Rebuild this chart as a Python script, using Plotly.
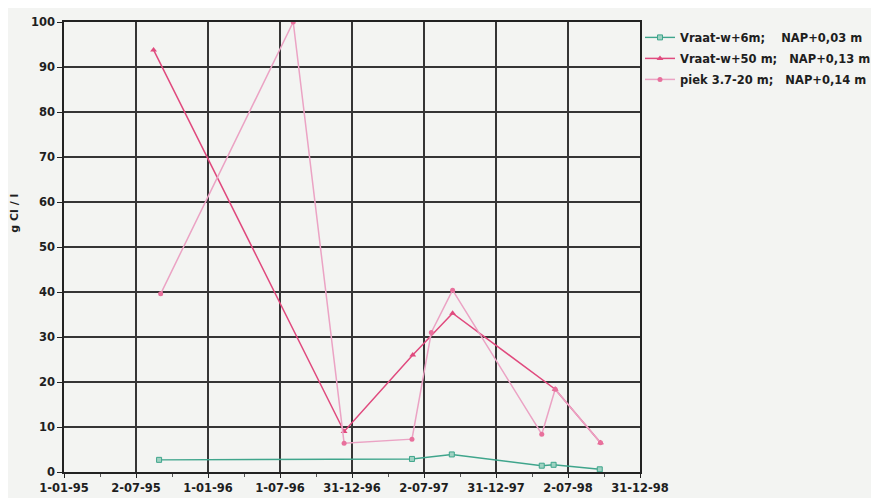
import plotly.graph_objects as go

# ---- data ----
tick_vals = ["1995-01-01", "1995-07-02 12:00", "1996-01-01", "1996-07-01 12:00",
             "1996-12-31", "1997-07-01 12:00", "1997-12-31", "1998-07-01 12:00", "1998-12-31"]
tick_text = ["1-01-95", "2-07-95", "1-01-96", "1-07-96", "31-12-96",
             "2-07-97", "31-12-97", "2-07-98", "31-12-98"]

names = ["Vraat-w+6m;\u00a0\u00a0\u00a0\u00a0NAP+0,03 m",
         "Vraat-w+50 m;\u00a0\u00a0\u00a0NAP+0,13 m",
         "piek 3.7-20 m;\u00a0\u00a0\u00a0NAP+0,14 m"]

dates_6m = ["1995-08-30", "1997-06-01", "1997-09-10", "1998-04-26", "1998-05-26", "1998-09-20"]
vals_6m = [2.7, 2.9, 3.9, 1.4, 1.6, 0.6]

dates_50m = ["1995-08-16", "1996-12-11", "1997-06-03", "1997-09-12", "1998-05-30", "1998-09-22"]
vals_50m = [93.8, 9.0, 26.0, 35.3, 18.4, 6.5]

dates_piek = ["1995-09-03", "1996-08-04", "1996-12-11", "1997-06-01", "1997-07-20",
              "1997-09-12", "1998-04-26", "1998-05-30", "1998-09-22"]
vals_piek = [39.6, 100.0, 6.4, 7.3, 31.0, 40.4, 8.4, 18.4, 6.5]

colors = ["#3fa58c", "#e04a7e", "#eba3c4"]

FONT = "DejaVu Sans"
TXT = "#1e1e1e"
GRID = "#353535"
BG = "#f3f4f2"

# page body has an 8px margin: the figure sits at (8, 8) in the window
fig = go.Figure()
fig.add_trace(go.Scatter(x=dates_6m, y=vals_6m, mode="lines+markers", name=names[0],
                         legendgroup="a",
                         line=dict(color=colors[0], width=1.4),
                         marker=dict(symbol="square", size=5, color="#9fd2c2",
                                     line=dict(color=colors[0], width=1))))
fig.add_trace(go.Scatter(x=dates_50m, y=vals_50m, mode="lines+markers", name=names[1],
                         legendgroup="b",
                         line=dict(color=colors[1], width=1.5),
                         marker=dict(symbol="triangle-up", size=6, color=colors[1])))
fig.add_trace(go.Scatter(x=dates_piek, y=vals_piek, mode="lines+markers", name=names[2],
                         legendgroup="c",
                         line=dict(color=colors[2], width=1.5),
                         marker=dict(symbol="circle", size=5, color="#e8709c")))

fig.update_layout(
    width=871, height=490,
    margin=dict(l=56, r=239, t=14, b=26, autoexpand=False),
    paper_bgcolor=BG, plot_bgcolor=BG,
    font=dict(family=FONT, size=11.5, color=TXT, weight="bold"),
    showlegend=True,
    legend=dict(x=1.0, y=0.998, xanchor="left", yanchor="top",
                bgcolor="rgba(0,0,0,0)", borderwidth=0,
                font=dict(family=FONT, size=11.5, color=TXT, weight="bold"),
                itemwidth=30, tracegroupgap=2),
    annotations=[dict(text="g Cl / l", textangle=-90, showarrow=False,
                      xref="paper", yref="paper", x=-0.086, y=0.575,
                      xanchor="center", yanchor="middle",
                      font=dict(family=FONT, size=11, color=TXT, weight="bold"))],
)

fig.update_xaxes(
    type="date", range=["1995-01-01", "1998-12-31"], automargin=False,
    tickmode="array", tickvals=tick_vals, ticktext=tick_text,
    showgrid=True, gridcolor=GRID, gridwidth=1.5,
    showline=True, linecolor="#222222", linewidth=1.6, mirror=True,
    ticks="outside", ticklen=4, tickcolor="#222222", tickwidth=1.3,
    tickfont=dict(family=FONT, size=11.5, color=TXT, weight="bold"),
    minor=dict(tick0="1995-01-01", dtick=91.25 * 86400000, ticks="outside",
               ticklen=3, tickcolor="#555555", tickwidth=1, showgrid=False),
    zeroline=False,
)
fig.update_yaxes(
    range=[0, 100], dtick=10, tick0=0, automargin=False,
    showgrid=True, gridcolor=GRID, gridwidth=1.5,
    showline=True, linecolor="#222222", linewidth=1.6, mirror=True,
    ticks="outside", ticklen=5, tickcolor="#222222", tickwidth=1.3,
    tickfont=dict(family=FONT, size=11.5, color=TXT, weight="bold"),
    zeroline=False,
)

fig.write_html("out.html")
